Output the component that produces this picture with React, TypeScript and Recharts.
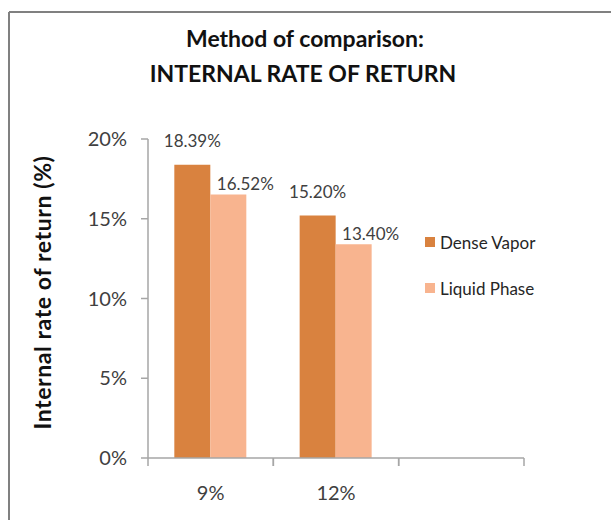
import React from 'react';
import { BarChart, Bar, XAxis, YAxis, Legend, LabelList, Customized } from 'recharts';

const categories = ['9%', '12%', ''];
const denseVapor = [18.39, 15.2, null];
const liquidPhase = [16.52, 13.4, null];
const yTicks = [0, 5, 10, 15, 20];
const titleLines = ['Method of comparison:', 'INTERNAL RATE OF RETURN'];
const yAxisTitle = 'Internal rate of return (%)';
const seriesNames = ['Dense Vapor', 'Liquid Phase'];

const COLORS = ['#D9823F', '#F8B48F'];
const FONT = 'Lato, "Open Sans", sans-serif';

const data = categories.map((c, i) => ({
  cat: c,
  dense: denseVapor[i],
  liquid: liquidPhase[i],
}));

const XTick = (props: any) => {
  const { x, y, payload } = props;
  const half = payload.offset || 0;
  return (
    <g>
      <line x1={x - half} y1={y} x2={x - half} y2={y + 8} stroke="#A6A6A6" strokeWidth={1.5} />
      <line x1={x + half} y1={y} x2={x + half} y2={y + 8} stroke="#A6A6A6" strokeWidth={1.5} />
      <text x={x} y={y + 34} textAnchor="middle" dominantBaseline="central" fontFamily={FONT} fontSize={20} fill="#404040">
        {payload.value}
      </text>
    </g>
  );
};

const makeLabel = (dx: number, dy: number) => (props: any) => {
  const { x, y, width, value } = props;
  if (value == null) return null;
  return (
    <text x={x + width / 2 + dx} y={y + dy} textAnchor="middle" dominantBaseline="central" fontFamily={FONT} fontSize={17} fill="#404040">
      {`${Number(value).toFixed(2)}%`}
    </text>
  );
};

const LegendContent = () => (
  <div style={{ fontFamily: FONT, fontSize: 17, color: '#262626' }}>
    {seriesNames.map((n, i) => (
      <div key={n} style={{ display: 'flex', alignItems: 'center', height: 24, marginBottom: i === 0 ? 22 : 0 }}>
        <span style={{ width: 10, height: 10, background: COLORS[i], display: 'inline-block', marginRight: 5 }} />
        <span>{n}</span>
      </div>
    ))}
  </div>
);

const Decorations = () => (
  <g>
    <line x1={9} y1={12} x2={611} y2={12} stroke="#808080" strokeWidth={2} />
    <line x1={9} y1={12} x2={9} y2={520} stroke="#808080" strokeWidth={2} />
    <text x={305} y={47} textAnchor="middle" fontFamily={FONT} fontWeight="bold" fontSize={23} fill="#111">
      {titleLines[0]}
    </text>
    <text x={303} y={82} textAnchor="middle" fontFamily={FONT} fontWeight="bold" fontSize={23} fill="#111">
      {titleLines[1]}
    </text>
  </g>
);

const YLabel = (props: any) => {
  const vb = props.viewBox || {};
  const cx = (vb.x || 0) + 34;
  const cy = (vb.y || 0) + (vb.height || 0) / 2 - 6;
  return (
    <text x={cx} y={cy} textAnchor="middle" dominantBaseline="central" transform={`rotate(-90 ${cx} ${cy})`} fontFamily={FONT} fontWeight="bold" fontSize={23} letterSpacing={0.6} fill="#111">
      {yAxisTitle}
    </text>
  );
};

export default function App() {
  return (
    <div style={{ position: 'absolute', left: 0, top: 0, width: 611, height: 520, background: '#fff' }}>
      <BarChart
        width={611}
        height={520}
        data={data}
        margin={{ top: 139, right: 87, bottom: 0, left: 8 }}
        barCategoryGap="21%"
        barGap={0}
      >
        <Customized component={Decorations} />
        <XAxis
          dataKey="cat"
          height={62}
          axisLine={{ stroke: '#A6A6A6', strokeWidth: 1.5 }}
          tickLine={false}
          tickSize={0}
          tickMargin={0}
          tick={<XTick />}
          interval={0}
        />
        <YAxis
          width={140}
          domain={[0, 20]}
          ticks={yTicks}
          tickFormatter={(v: number) => `${v}%`}
          axisLine={{ stroke: '#A6A6A6', strokeWidth: 1.5 }}
          tickLine={{ stroke: '#A6A6A6', strokeWidth: 1.5 }}
          tickSize={7}
          tickMargin={14}
          tick={{ fontFamily: FONT, fontSize: 20, fill: '#404040' }}
          label={<YLabel />}
        />
        <Legend
          layout="vertical"
          align="center"
          verticalAlign="middle"
          content={<LegendContent />}
          wrapperStyle={{ left: 425, top: 230, width: 160 }}
        />
        <Bar dataKey="dense" name={seriesNames[0]} fill={COLORS[0]} isAnimationActive={false}>
          <LabelList dataKey="dense" content={makeLabel(0, -24)} />
        </Bar>
        <Bar dataKey="liquid" name={seriesNames[1]} fill={COLORS[1]} isAnimationActive={false}>
          <LabelList dataKey="liquid" content={makeLabel(17, -11)} />
        </Bar>
      </BarChart>
    </div>
  );
}
